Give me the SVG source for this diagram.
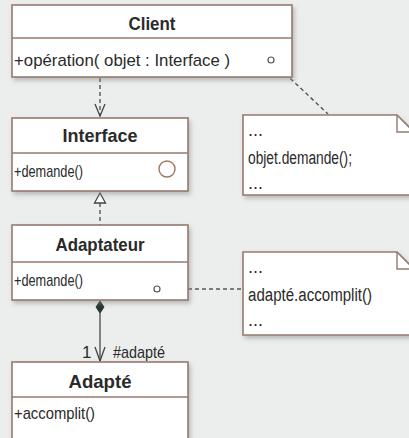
<svg xmlns="http://www.w3.org/2000/svg" width="409" height="438" viewBox="0 0 409 438">
<defs>
<style>
.box{fill:#ffffff;stroke:#97796f;stroke-width:1.6;filter:url(#sh)}
.div{stroke:#97796f;stroke-width:1.6}
.hd{font-family:"Liberation Sans Narrow","Liberation Sans",Arial,sans-serif;font-weight:bold;font-size:19px;fill:#2a2a2a;text-anchor:middle}
.op{font-family:"Liberation Sans Narrow","Liberation Sans",Arial,sans-serif;font-size:17px;fill:#2a2a2a}
.nt{font-family:"Liberation Sans Narrow","Liberation Sans",Arial,sans-serif;font-size:18px;fill:#2a2a2a}
.dash{fill:none;stroke:#555;stroke-width:1.4;stroke-dasharray:4 3}
.line{fill:none;stroke:#555;stroke-width:1.4}
.head{fill:none;stroke:#444;stroke-width:1.3}
</style>
<filter id="sh" x="-10%" y="-10%" width="130%" height="140%">
<feDropShadow dx="2" dy="3" stdDeviation="2" flood-color="#8a8a8a" flood-opacity="0.5"/>
</filter>
</defs>
<rect x="0" y="0" width="409" height="438" fill="#eceeed"/>

<g id="connectors">
<line class="dash" x1="100" y1="78" x2="100" y2="116"/>
<path class="head" d="M95,104 L100,116 L105,104"/>
<line class="dash" x1="100" y1="203" x2="100" y2="225"/>
<path d="M100,193 L105.5,203 L94.5,203 Z" fill="#ffffff" stroke="#444" stroke-width="1.3"/>
<path d="M100,301 L104,307 L100,313 L96,307 Z" fill="#26352f" stroke="#26352f" stroke-width="1"/>
<line class="line" x1="100" y1="313" x2="100" y2="361"/>
<path class="head" d="M95,347 L100,361 L105,347"/>
<text class="op" x="82" y="358">1</text>
<text class="op" x="113" y="358" textLength="52" lengthAdjust="spacingAndGlyphs">#adapté</text>
<line class="dash" x1="275" y1="64" x2="328" y2="114"/>
<line class="dash" x1="160" y1="289" x2="243" y2="289"/>
</g>

<g id="client">
<rect class="box" x="12" y="5" width="280" height="72"/>
<line class="div" x1="12" y1="38" x2="292" y2="38"/>
<text class="hd" x="152" y="30" textLength="47" lengthAdjust="spacingAndGlyphs">Client</text>
<text class="op" x="14" y="66" textLength="216" lengthAdjust="spacingAndGlyphs">+opération( objet : Interface )</text>
<circle cx="271" cy="60" r="3" fill="#fff" stroke="#555" stroke-width="1.2"/>
</g>

<g id="interface">
<rect class="box" x="12" y="118" width="176" height="73"/>
<line class="div" x1="12" y1="153" x2="188" y2="153"/>
<text class="hd" x="100" y="142" textLength="75" lengthAdjust="spacingAndGlyphs">Interface</text>
<text class="op" x="14" y="177" textLength="69" lengthAdjust="spacingAndGlyphs">+demande()</text>
<circle cx="167" cy="169" r="8" fill="none" stroke="#a07a60" stroke-width="1.4"/>
</g>

<g id="adaptateur">
<rect class="box" x="12" y="225" width="176" height="75"/>
<line class="div" x1="12" y1="262" x2="188" y2="262"/>
<text class="hd" x="100" y="251" textLength="89" lengthAdjust="spacingAndGlyphs">Adaptateur</text>
<text class="op" x="14" y="286" textLength="69" lengthAdjust="spacingAndGlyphs">+demande()</text>
<circle cx="157" cy="289" r="3" fill="#fff" stroke="#555" stroke-width="1.2"/>
</g>

<g id="adapte">
<rect class="box" x="12" y="362" width="176" height="85"/>
<line class="div" x1="12" y1="397" x2="188" y2="397"/>
<text class="hd" x="100" y="388" textLength="63" lengthAdjust="spacingAndGlyphs">Adapté</text>
<text class="op" x="14" y="419" textLength="81" lengthAdjust="spacingAndGlyphs">+accomplit()</text>
</g>

<g id="note1">
<path class="box" d="M243,115 L397,115 L415,133 L415,195 L243,195 Z"/>
<path fill="none" stroke="#97796f" stroke-width="1.4" d="M397,115 L397,132 L415,132"/>
<text class="nt" x="248" y="136">...</text>
<text class="nt" x="248" y="164" textLength="104" lengthAdjust="spacingAndGlyphs">objet.demande();</text>
<text class="nt" x="248" y="189">...</text>
</g>

<g id="note2">
<path class="box" d="M243,252 L397,252 L415,270 L415,335 L243,335 Z"/>
<path fill="none" stroke="#97796f" stroke-width="1.4" d="M397,252 L397,269 L415,269"/>
<text class="nt" x="248" y="273">...</text>
<text class="nt" x="248" y="301" textLength="124" lengthAdjust="spacingAndGlyphs">adapté.accomplit()</text>
<text class="nt" x="248" y="326">...</text>
</g>
</svg>
